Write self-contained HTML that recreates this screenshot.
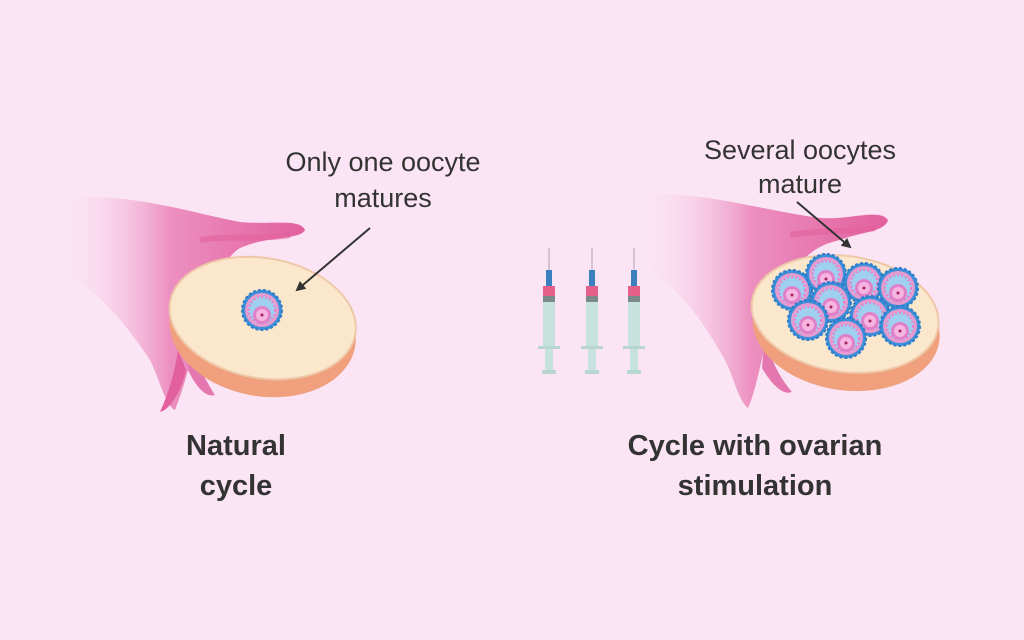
<!DOCTYPE html>
<html><head><style>
html,body{margin:0;padding:0;background:#fbe4f4;}
svg{display:block}
text{font-family:"Liberation Sans",sans-serif;fill:#333}
</style></head><body>
<svg width="1024" height="640" viewBox="0 0 1024 640">
<defs>
<linearGradient id="tube" x1="0" y1="0" x2="1" y2="0">
<stop offset="0" stop-color="#fbe4f4" stop-opacity="0"/>
<stop offset="0.45" stop-color="#ec8fc0"/>
<stop offset="1" stop-color="#e2609d"/>
</linearGradient>
<marker id="ah" markerWidth="10" markerHeight="10" refX="8" refY="5" orient="auto" markerUnits="userSpaceOnUse">
<path d="M0,0 L10,5 L0,10 z" fill="#333"/>
</marker>
<g id="foll">
<circle r="20" fill="#3a8fd8" stroke="#2f7cc8" stroke-width="2" stroke-dasharray="3 2"/>
<circle r="17" fill="#e79ad0"/>
<circle r="14" fill="#9fd0f0"/>
<circle r="13" fill="none" stroke="#e780c8" stroke-width="2" stroke-dasharray="2 2"/>
<circle cx="0" cy="5" r="9" fill="#e080c8"/>
<circle cx="0" cy="5" r="6" fill="#f6b4e0"/>
<circle cx="0" cy="5" r="1.5" fill="#a02060"/>
</g>
<g id="syr">
<line x1="0" y1="248" x2="0" y2="272" stroke="#c8b8c8" stroke-width="1.5"/>
<rect x="-3" y="270" width="6" height="16" fill="#3a7fc0"/>
<rect x="-6" y="286" width="12" height="10" fill="#e4608a"/>
<rect x="-6" y="296" width="12" height="6" fill="#7a8a88"/>
<rect x="-6" y="302" width="12" height="46" fill="#c6e2dc"/>
<rect x="-11" y="346" width="22" height="3" fill="#b8d6d0"/>
<rect x="-4" y="349" width="8" height="22" fill="#c6e2dc"/>
<rect x="-7" y="370" width="14" height="4" fill="#b8d6d0"/>
</g>
</defs>

<!-- left tube -->
<path d="M60,200 C120,190 180,210 240,222 C270,225 300,218 305,230 C300,240 270,235 240,248 C220,260 210,300 200,330 C190,360 185,385 175,410 C165,405 160,380 150,360 C130,330 100,290 60,270 Z" fill="url(#tube)"/>
<path d="M190,330 C195,360 205,380 215,395 C205,398 195,385 188,370 Z" fill="#e577b0"/>
<path d="M178,350 C175,370 170,390 160,412 C170,410 182,390 186,370 Z" fill="#e2609d"/>
<path d="M200,240 C230,235 260,240 290,235" stroke="#e2609d" stroke-width="6" fill="none" opacity="0.6"/>
<!-- left ovary -->
<g transform="rotate(10 262 322)">
<ellipse cx="264" cy="330" rx="94" ry="66" fill="#f0a07c"/>
<ellipse cx="262" cy="318" rx="94" ry="60" fill="#fae7cc" stroke="#eec8a8" stroke-width="2"/>
</g>
<use href="#foll" x="262" y="310"/>

<!-- right tube -->
<path d="M640,195 C700,190 760,210 820,218 C850,220 880,208 888,220 C885,232 860,232 840,240 C790,250 780,300 770,330 C760,360 758,385 748,408 C738,400 735,380 725,360 C705,325 680,285 640,265 Z" fill="url(#tube)"/>
<path d="M765,335 C770,360 780,378 792,392 C782,396 770,382 762,368 Z" fill="#e577b0"/>
<path d="M790,235 C820,230 850,232 875,228" stroke="#e2609d" stroke-width="6" fill="none" opacity="0.6"/>
<!-- right ovary -->
<g transform="rotate(8 845 315)">
<ellipse cx="848" cy="328" rx="94" ry="62" fill="#f0a07c"/>
<ellipse cx="845" cy="314" rx="94" ry="58" fill="#fae7cc" stroke="#eec8a8" stroke-width="2"/>
</g>
<use href="#foll" x="792" y="290"/>
<use href="#foll" x="826" y="274"/>
<use href="#foll" x="864" y="283"/>
<use href="#foll" x="898" y="288"/>
<use href="#foll" x="831" y="302"/>
<use href="#foll" x="808" y="320"/>
<use href="#foll" x="870" y="316"/>
<use href="#foll" x="900" y="326"/>
<use href="#foll" x="846" y="338"/>

<!-- syringes -->
<use href="#syr" x="549" y="0"/>
<use href="#syr" x="592" y="0"/>
<use href="#syr" x="634" y="0"/>

<!-- arrows -->
<line x1="370" y1="228" x2="297" y2="290" stroke="#333" stroke-width="2" marker-end="url(#ah)"/>
<line x1="797" y1="202" x2="850" y2="247" stroke="#333" stroke-width="2" marker-end="url(#ah)"/>

<!-- text -->
<text x="383" y="171" font-size="27" text-anchor="middle">Only one oocyte</text>
<text x="383" y="207" font-size="27" text-anchor="middle">matures</text>
<text x="800" y="159" font-size="27" text-anchor="middle">Several oocytes</text>
<text x="800" y="193" font-size="27" text-anchor="middle">mature</text>
<text x="236" y="455" font-size="29" font-weight="bold" text-anchor="middle">Natural</text>
<text x="236" y="495" font-size="29" font-weight="bold" text-anchor="middle">cycle</text>
<text x="755" y="455" font-size="29" font-weight="bold" text-anchor="middle">Cycle with ovarian</text>
<text x="755" y="495" font-size="29" font-weight="bold" text-anchor="middle">stimulation</text>
</svg>
</body></html>
